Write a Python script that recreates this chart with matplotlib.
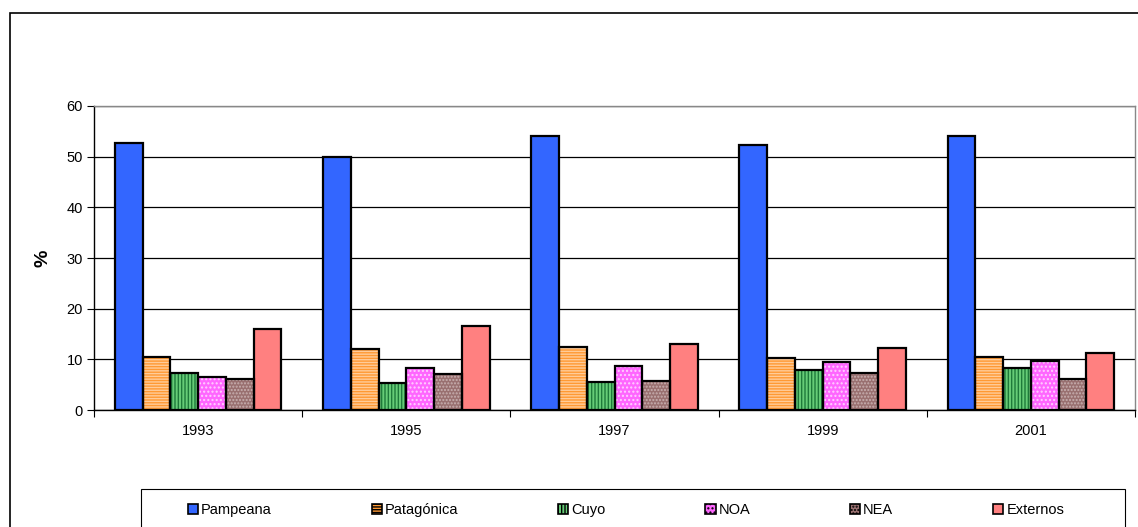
import numpy as np
import matplotlib
matplotlib.use("Agg")
import matplotlib.pyplot as plt
from matplotlib.patches import Rectangle, Patch

plt.rcParams['font.family'] = ['Liberation Sans', 'DejaVu Sans']
plt.rcParams['hatch.linewidth'] = 1.0

anios = ['1993', '1995', '1997', '1999', '2001']
regiones = ['Pampeana', 'Patagónica', 'Cuyo', 'NOA', 'NEA', 'Externos']

pampeana = [52.6, 50.0, 54.1, 52.4, 54.0]
patagonica = [10.5, 12.1, 12.4, 10.2, 10.5]
cuyo = [7.4, 5.3, 5.6, 7.9, 8.3]
noa = [6.6, 8.2, 8.6, 9.4, 9.7]
nea = [6.2, 7.2, 5.8, 7.4, 6.2]
externos = [16.0, 16.6, 13.1, 12.3, 11.2]

series = [pampeana, patagonica, cuyo, noa, nea, externos]
# riempimento, colore del tratteggio, tratteggio
relleno = ['#3366FF', '#FF9933', '#66CC77', '#FF66FF', '#997070', '#FF8080']
trama_col = ['#3366FF', '#FFCC99', '#1E7A3A', '#FFD0FF', '#C8B0B0', '#FF8080']
tramas = ['', '------', '|||||', '....', '.....', '']

fig = plt.figure(figsize=(11.38, 5.27), dpi=100)
ax = fig.add_axes([94 / 1138, 117 / 527, (1135 - 94) / 1138, (410 - 106) / 527])

x = np.arange(len(anios))
w = 1 / 7.5
for j, vals in enumerate(series):
    pos = x - 0.5 + 0.75 * w + j * w + w / 2
    ax.bar(pos, vals, w, color=relleno[j], hatch=tramas[j],
           edgecolor=trama_col[j], linewidth=0, zorder=3)
    ax.bar(pos, vals, w, fill=False, edgecolor='black', linewidth=1.6, zorder=4)

ax.set_xlim(-0.5, 4.5)
ax.set_ylim(0, 60)
ax.set_yticks(np.arange(0, 61, 10))
ax.set_xticks(x)
ax.set_xticklabels(anios)
ax.set_xticks(np.arange(-0.5, 5, 1), minor=True)
ax.tick_params(axis='x', which='major', length=0, pad=10, labelsize=10.5)
ax.tick_params(axis='x', which='minor', length=5, direction='out', width=0.8)
ax.tick_params(axis='y', length=5, direction='out', width=0.8, labelsize=10.5, pad=3)
ax.yaxis.grid(True, color='black', linewidth=0.9, zorder=0)
ax.set_axisbelow(True)
ax.spines['left'].set_color('black')
ax.spines['bottom'].set_color('black')
ax.spines['top'].set_color('#888888')
ax.spines['right'].set_color('#888888')
for s in ax.spines.values():
    s.set_linewidth(1.0)
ax.set_ylabel('%', fontsize=14, fontweight='bold', labelpad=11)

# cornice esterna del grafico
fig.patches.append(Rectangle((10 / 1138, -0.1), 1.2, (527 - 13) / 527 + 0.1,
                             transform=fig.transFigure, fill=False,
                             edgecolor='black', linewidth=1.2, zorder=0))
# riquadro della legenda
fig.patches.append(Rectangle((141 / 1138, -0.1), (1125 - 141) / 1138, (527 - 489) / 527 + 0.1,
                             transform=fig.transFigure, fill=False,
                             edgecolor='black', linewidth=0.8, zorder=0))

handles = [Patch(facecolor=relleno[j], edgecolor='black', hatch=tramas[j], linewidth=1.2)
           for j in range(len(regiones))]
fig.legend(handles, regiones, loc='center', bbox_to_anchor=(626 / 1138, 1 - 510 / 527),
           ncol=6, frameon=False, fontsize=10.5, handlelength=0.7, handleheight=0.7,
           handletextpad=0.2, columnspacing=6.85)

fig.savefig('out.png', dpi=100)
